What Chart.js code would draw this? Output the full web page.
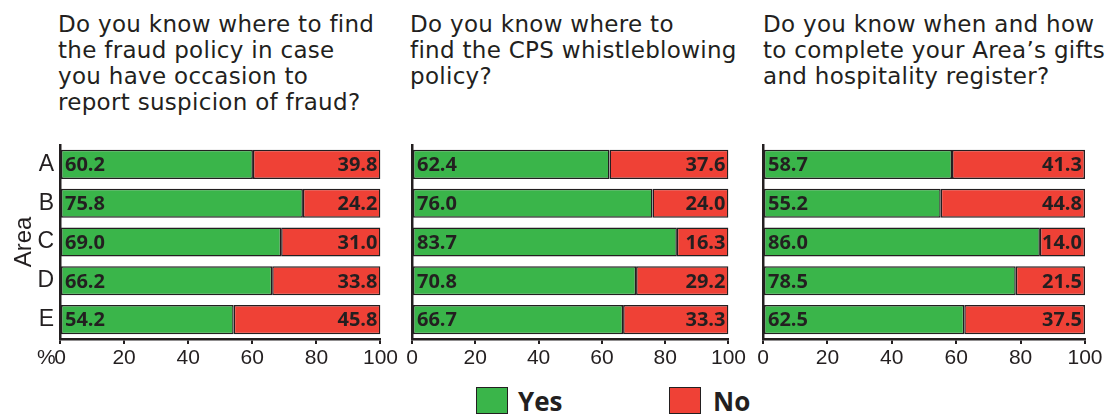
<!DOCTYPE html>
<html>
<head>
<meta charset="utf-8">
<script src="https://cdn.jsdelivr.net/npm/chart.js@4.4.1/dist/chart.umd.min.js"></script>
<style>
  body { margin: 0; background: #fff; }
  #wrap { position: relative; width: 1109px; height: 416px; overflow: hidden; font-family: "DejaVu Sans", sans-serif; color: #231f20; }
  .title { position: absolute; top: 11px; font-size: 23px; line-height: 26px; letter-spacing: 0.3px; white-space: nowrap; }
  .panel { position: absolute; top: 140px; height: 235px; }
  .pct { position: absolute; left: 37px; top: 345px; font: 21px "Liberation Sans Narrow", "Liberation Sans", sans-serif; }
  .leg { position: absolute; top: 387px; width: 32px; height: 27px; box-sizing: border-box; border: 1px solid #231f20; }
  .legtxt { position: absolute; top: 383px; font: bold 26px "Open Sans", sans-serif; }
</style>
</head>
<body>
<div id="wrap">
  <div class="title" style="left:58px">Do you know where to find<br>the fraud policy in case<br>you have occasion to<br>report suspicion of fraud?</div>
  <div class="title" style="left:410px">Do you know where to<br>find the CPS whistleblowing<br>policy?</div>
  <div class="title" style="left:763px">Do you know when and how<br>to complete your Area’s gifts<br>and hospitality register?</div>

  <div class="panel" style="left:0px;width:400px"><canvas id="c1"></canvas></div>
  <div class="panel" style="left:400px;width:348px"><canvas id="c2"></canvas></div>
  <div class="panel" style="left:750px;width:359px"><canvas id="c3"></canvas></div>
  <div class="pct">%</div>

  <div class="leg" style="left:476px;background:#3ab54a"></div>
  <div class="legtxt" style="left:518px">Yes</div>
  <div class="leg" style="left:669px;background:#ef4136"></div>
  <div class="legtxt" style="left:713px">No</div>
</div>
<script>
// ===== Data =====
const areas = ['A', 'B', 'C', 'D', 'E'];
const xTicks = [0, 20, 40, 60, 80, 100];
const seriesNames = ['Yes', 'No'];

const fraudYes = [60.2, 75.8, 69.0, 66.2, 54.2];
const fraudNo = [39.8, 24.2, 31.0, 33.8, 45.8];

const whistleYes = [62.4, 76.0, 83.7, 70.8, 66.7];
const whistleNo = [37.6, 24.0, 16.3, 29.2, 33.3];

const giftsYes = [58.7, 55.2, 86.0, 78.5, 62.5];
const giftsNo = [41.3, 44.8, 14.0, 21.5, 37.5];

const GREEN = '#3ab54a';
const RED = '#ef4136';
const INK = '#231f20';
const axisFont = { family: '"Liberation Sans Narrow", "Liberation Sans", sans-serif' };

// values written inside the bars
const valueLabels = {
    id: 'valueLabels',
    afterDatasetsDraw(chart) {
        const ctx = chart.ctx;
        ctx.save();
        ctx.font = 'bold 20px "Open Sans", sans-serif';
        ctx.fillStyle = INK;
        ctx.textBaseline = 'middle';
        chart.data.datasets.forEach((ds, i) => {
            chart.getDatasetMeta(i).data.forEach((bar, j) => {
                const txt = ds.data[j].toFixed(1);
                if (i === 0) {
                    ctx.textAlign = 'left';
                    ctx.fillText(txt, bar.base + 4, bar.y + 1);
                } else {
                    ctx.textAlign = 'right';
                    ctx.fillText(txt, bar.x - 3, bar.y + 1);
                }
            });
        });
        ctx.restore();
    }
};

function makePanel(id, yes, no, showY, yWidth, padRight) {
    return new Chart(document.getElementById(id), {
        type: 'bar',
        data: {
            labels: areas,
            datasets: [
                { label: seriesNames[0], data: yes, backgroundColor: GREEN },
                { label: seriesNames[1], data: no, backgroundColor: RED }
            ]
        },
        options: {
            indexAxis: 'y',
            responsive: true,
            maintainAspectRatio: false,
            animation: false,
            layout: { padding: { top: 5, right: padRight, bottom: 0, left: 0 } },
            datasets: {
                bar: {
                    borderColor: INK,
                    borderWidth: 1.5,
                    borderSkipped: false,
                    barPercentage: 0.75,
                    categoryPercentage: 1
                }
            },
            plugins: {
                legend: { display: false },
                tooltip: { enabled: false }
            },
            scales: {
                x: {
                    stacked: true,
                    min: 0,
                    max: 100,
                    afterBuildTicks: (scale) => { scale.ticks = xTicks.map(v => ({ value: v })); },
                    afterFit: (scale) => { scale.height = 36; },
                    border: { display: true, color: INK, width: 2.5 },
                    grid: { display: true, drawOnChartArea: false, drawTicks: true, tickLength: 5, color: INK, lineWidth: 2 },
                    ticks: { color: INK, padding: 2, maxRotation: 0, font: { ...axisFont, size: 21 } }
                },
                y: {
                    stacked: true,
                    afterFit: (scale) => {
                        scale.width = yWidth;
                        scale.paddingTop = 0;
                        scale.paddingBottom = 0;
                    },
                    border: { display: true, color: INK, width: 2.5 },
                    grid: { display: true, drawOnChartArea: false, drawTicks: false },
                    ticks: { display: showY, color: INK, padding: 6, font: { ...axisFont, size: 23 } },
                    title: {
                        display: showY,
                        text: 'Area',
                        color: INK,
                        padding: { top: 10, bottom: 0 },
                        font: { ...axisFont, size: 24 }
                    }
                }
            }
        },
        plugins: [valueLabels]
    });
}

makePanel('c1', fraudYes, fraudNo, true, 60, 19);
makePanel('c2', whistleYes, whistleNo, false, 12, 15);
makePanel('c3', giftsYes, giftsNo, false, 13, 24);
</script>
</body>
</html>
